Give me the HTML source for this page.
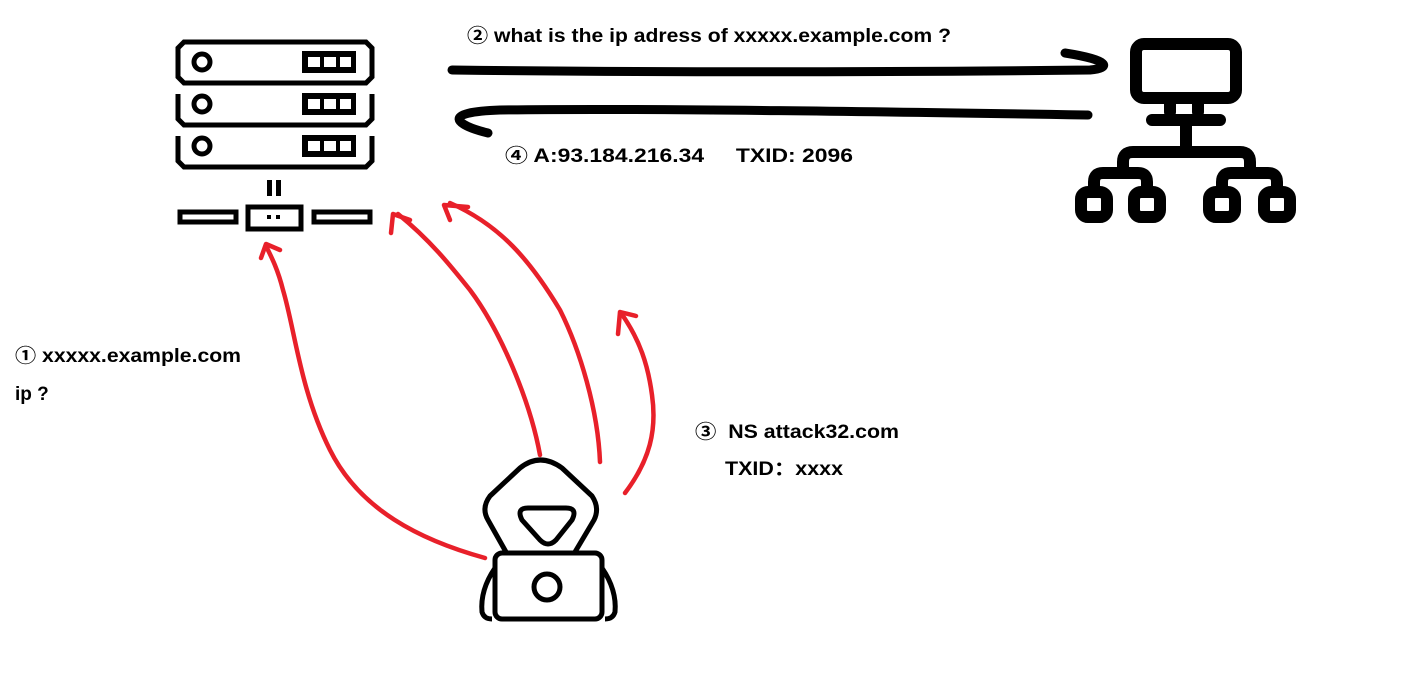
<!DOCTYPE html>
<html><head><meta charset="utf-8"><style>
html,body{margin:0;padding:0;background:#fff;width:1416px;height:682px;overflow:hidden}
text{font-family:"Liberation Sans","Noto Sans CJK SC",sans-serif;font-weight:bold;font-size:19px;fill:#000}
</style></head><body>
<svg width="1416" height="682" viewBox="0 0 1416 682" xmlns="http://www.w3.org/2000/svg">
<g fill="none" stroke="#000" stroke-width="5">
<path d="M184,42 L366,42 L372,48 L372,77 L366,83 L184,83 L178,77 L178,48 Z"/>
<path d="M178,94 L178,119 L184,125 L366,125 L372,119 L372,94"/>
<path d="M178,136 L178,161 L184,167 L366,167 L372,161 L372,136"/>
<circle cx="202" cy="62" r="8"/><circle cx="202" cy="104" r="8"/><circle cx="202" cy="146" r="8"/>
<rect x="180" y="212" width="56" height="10"/>
<rect x="248" y="207" width="53" height="22"/>
<rect x="314" y="212" width="56" height="10"/>
</g>
<g fill="#000">
<rect x="302" y="51" width="54" height="22"/><rect x="302" y="93" width="54" height="22"/><rect x="302" y="135" width="54" height="22"/>
<rect x="267" y="180" width="5" height="16"/><rect x="276" y="180" width="5" height="16"/>
<rect x="267" y="215" width="4" height="4"/><rect x="276" y="215" width="4" height="4"/>
</g>
<g fill="#fff">
<rect x="308" y="57" width="12" height="10"/><rect x="324" y="57" width="12" height="10"/><rect x="340" y="57" width="11" height="10"/>
<rect x="308" y="99" width="12" height="10"/><rect x="324" y="99" width="12" height="10"/><rect x="340" y="99" width="11" height="10"/>
<rect x="308" y="141" width="12" height="10"/><rect x="324" y="141" width="12" height="10"/><rect x="340" y="141" width="11" height="10"/>
</g>
<g fill="none" stroke="#000" stroke-width="12" stroke-linecap="round" stroke-linejoin="round">
<rect x="1136" y="44" width="100" height="54" rx="8"/>
<line x1="1170" y1="100" x2="1170" y2="112"/><line x1="1198" y1="100" x2="1198" y2="112"/>
<line x1="1152" y1="120" x2="1220" y2="120"/>
<line x1="1186" y1="124" x2="1186" y2="150"/>
<path d="M1123,170 L1123,162 Q1123,152 1133,152 L1240,152 Q1250,152 1250,162 L1250,170"/>
<path d="M1094,190 L1094,182 Q1094,173 1103,173 L1138,173 Q1147,173 1147,182 L1147,190"/>
<path d="M1222,190 L1222,182 Q1222,173 1231,173 L1268,173 Q1277,173 1277,182 L1277,190"/>
<rect x="1081" y="192" width="26" height="25" rx="7"/>
<rect x="1134" y="192" width="26" height="25" rx="7"/>
<rect x="1209" y="192" width="26" height="25" rx="7"/>
<rect x="1264" y="192" width="26" height="25" rx="7"/>
</g>
<g fill="none" stroke="#000" stroke-width="9" stroke-linecap="round">
<path d="M452,70 C700,73 900,72 1090,70 C1112,68 1110,60 1065,53"/>
<path d="M1088,115 C900,112 650,108 500,110 C440,112 455,125 488,133"/>
</g>
<g fill="none" stroke="#000" stroke-width="5" stroke-linejoin="round">
<path d="M506,552 L488,520 Q481,508 490,496 L520,468 Q540,452 562,468 L592,496 Q600,508 594,520 L575,552"/>
<path d="M528,508 Q516,508 522,520 L540,540 Q548,548 556,540 L572,520 Q578,508 566,508 Z"/>
<rect x="495" y="553" width="107" height="66" rx="7"/>
<circle cx="547" cy="587" r="13"/>
<path d="M495,568 Q480,590 482,612 Q484,619 492,619"/>
<path d="M602,568 Q617,590 615,612 Q613,619 605,619"/>
</g>
<g fill="none" stroke="#e8202a" stroke-width="4.5" stroke-linecap="round" stroke-linejoin="round">
<path d="M485,558 C420,540 360,510 330,450 C300,390 295,330 283,290 C278,270 272,258 266,246"/>
<path d="M261,258 L266,244 L280,250"/>
<path d="M540,455 C530,400 500,330 470,290 C450,265 430,240 398,214"/>
<path d="M391,233 L393,214 L410,220"/>
<path d="M600,462 C598,410 580,350 560,310 C530,260 500,225 450,203"/>
<path d="M450,220 L444,205 L468,207"/>
<path d="M625,493 C650,460 657,430 652,395 C648,365 640,340 621,313"/>
<path d="M618,334 L620,312 L636,316"/>
</g>
<text x="467" y="42" textLength="484" lengthAdjust="spacingAndGlyphs">② what is the ip adress of  xxxxx.example.com ?</text>
<text x="505" y="162" xml:space="preserve" textLength="348" lengthAdjust="spacingAndGlyphs">④ A:93.184.216.34     TXID: 2096</text>
<text x="15" y="362" textLength="226" lengthAdjust="spacingAndGlyphs">① xxxxx.example.com</text>
<text x="15" y="400">ip ?</text>
<text x="695" y="438" xml:space="preserve" textLength="204" lengthAdjust="spacingAndGlyphs">③  NS attack32.com</text>
<text x="725" y="475" textLength="118" lengthAdjust="spacingAndGlyphs">TXID：xxxx</text>
</svg>
</body></html>
